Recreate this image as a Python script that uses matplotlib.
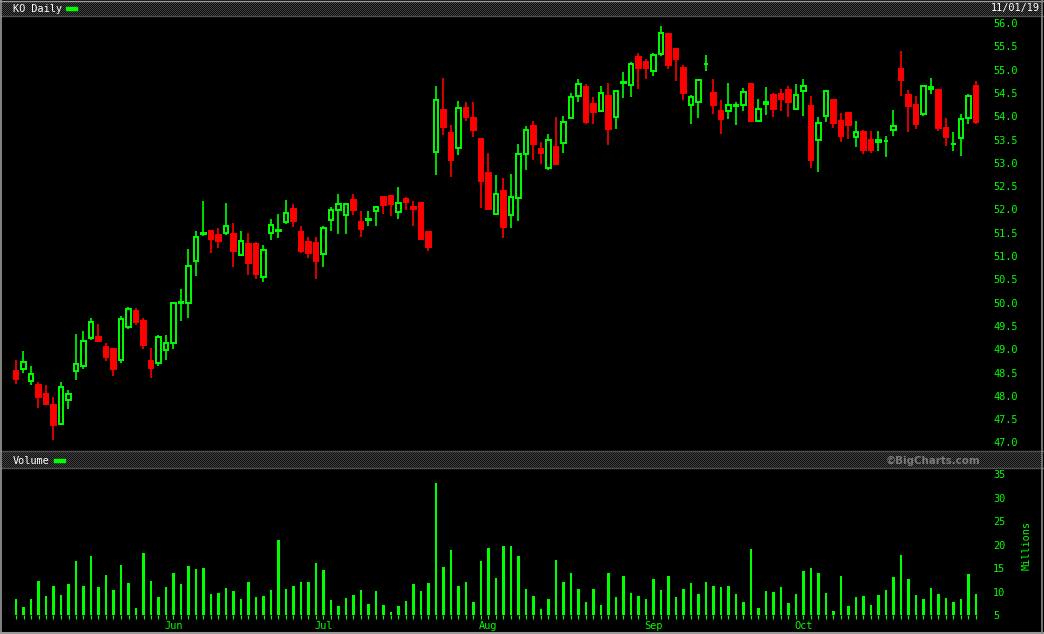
import matplotlib
matplotlib.use('Agg')
import matplotlib.pyplot as plt
from matplotlib.lines import Line2D
from matplotlib.patches import Rectangle
import numpy as np
import pandas as pd

# KO daily candles, 2 May 2019 .. 1 Nov 2019
opens = [48.54, 48.58, 48.32, 48.23, 48.04, 47.80, 47.40, 47.90, 48.53, 48.65,
         49.25, 49.26, 49.05, 49.00, 48.77, 49.48, 49.82, 49.61, 48.75, 48.71,
         48.99, 49.14, 49.99, 50.00, 50.90, 51.47, 51.54, 51.45, 51.50, 51.47,
         51.03, 51.26, 51.26, 50.54, 51.50, 51.54, 51.74, 52.01, 51.52, 51.30,
         51.28, 51.05, 51.78, 51.99, 51.89, 52.20, 51.74, 51.78, 51.97, 52.27,
         52.29, 51.95, 52.22, 52.05, 52.14, 51.52, 53.24, 54.13, 53.64, 53.32,
         54.18, 53.96, 53.51, 52.78, 51.91, 52.39, 51.87, 52.25, 53.19, 53.79,
         53.30, 52.89, 53.34, 53.43, 53.97, 54.44, 54.63, 54.26, 54.11, 54.43,
         53.99, 54.71, 54.66, 55.27, 55.16, 54.98, 55.34, 55.76, 55.44, 55.04,
         54.23, 54.30, 55.12, 54.50, 54.11, 54.11, 54.22, 54.23, 54.69, 53.90,
         54.26, 54.46, 54.48, 54.56, 54.15, 54.54, 54.22, 53.50, 54.00, 54.35,
         53.90, 54.07, 53.55, 53.66, 53.49, 53.44, 53.46, 53.70, 55.01, 54.46,
         54.24, 54.05, 54.58, 54.56, 53.75, 53.40, 53.53, 53.96, 54.65]
highs = [48.77, 48.96, 48.63, 48.29, 48.23, 47.97, 48.30, 48.12, 49.33, 49.39,
         49.67, 49.54, 49.13, 49.02, 49.71, 49.91, 49.88, 49.67, 49.03, 49.30,
         49.30, 50.02, 50.29, 51.16, 51.54, 52.18, 51.54, 51.60, 52.14, 51.71,
         51.54, 51.49, 51.30, 51.24, 51.79, 51.90, 52.20, 52.12, 51.64, 51.41,
         51.41, 51.64, 52.05, 52.33, 52.13, 52.33, 51.97, 51.97, 52.08, 52.29,
         52.29, 52.48, 52.27, 52.18, 52.16, 51.52, 54.65, 54.82, 53.81, 54.33,
         54.30, 54.30, 53.51, 53.21, 52.74, 52.67, 52.76, 53.40, 53.79, 53.90,
         53.45, 53.62, 53.98, 54.00, 54.50, 54.80, 54.69, 54.41, 54.65, 54.71,
         54.55, 54.95, 55.16, 55.36, 55.23, 55.36, 55.94, 55.79, 55.44, 55.10,
         54.46, 54.80, 55.31, 54.80, 54.35, 54.71, 54.30, 54.61, 54.69, 54.37,
         54.63, 54.50, 54.58, 54.65, 54.69, 54.80, 54.43, 53.98, 54.56, 54.37,
         54.07, 54.07, 53.90, 53.70, 53.68, 53.68, 53.58, 54.13, 55.40, 54.56,
         54.43, 54.67, 54.82, 54.56, 53.96, 53.66, 54.05, 54.48, 54.76]
lows = [48.26, 48.50, 48.23, 47.74, 47.80, 47.05, 47.37, 47.72, 48.34, 48.58,
        49.20, 49.15, 48.75, 48.43, 48.71, 49.44, 49.52, 49.01, 48.38, 48.65,
        48.77, 49.01, 49.61, 49.68, 50.58, 51.44, 51.06, 51.17, 51.46, 50.76,
        50.99, 50.59, 50.51, 50.45, 51.34, 51.39, 51.69, 51.63, 51.06, 50.96,
        50.51, 50.76, 51.54, 51.48, 51.48, 51.89, 51.41, 51.65, 51.65, 51.90,
        51.86, 51.79, 51.99, 51.65, 51.34, 51.11, 52.74, 53.60, 52.70, 53.17,
        53.90, 53.55, 52.03, 51.99, 51.90, 51.39, 51.60, 51.75, 52.85, 53.06,
        52.97, 52.85, 52.95, 53.21, 53.94, 54.30, 53.83, 53.83, 54.09, 53.38,
        53.73, 54.39, 54.41, 54.58, 54.80, 54.86, 55.29, 55.01, 54.76, 54.35,
        53.83, 53.96, 54.97, 54.05, 53.62, 53.94, 53.81, 54.11, 53.88, 53.88,
        54.03, 53.98, 54.11, 53.98, 54.13, 54.00, 52.89, 52.80, 53.88, 53.75,
        53.45, 53.51, 53.34, 53.19, 53.21, 53.25, 53.13, 53.58, 54.43, 53.66,
        53.73, 54.00, 54.48, 53.68, 53.36, 53.25, 53.15, 53.83, 53.83]
closes = [48.36, 48.73, 48.47, 47.98, 47.83, 47.37, 48.18, 48.04, 48.68, 49.18,
          49.58, 49.18, 48.84, 48.58, 49.64, 49.86, 49.59, 49.09, 48.60, 49.26,
          49.13, 49.99, 50.01, 50.79, 51.41, 51.49, 51.37, 51.33, 51.64, 51.11,
          51.32, 50.86, 50.62, 51.13, 51.67, 51.55, 51.92, 51.76, 51.11, 51.06,
          50.89, 51.60, 51.99, 52.12, 52.12, 51.99, 51.58, 51.80, 52.05, 52.09,
          52.12, 52.13, 52.16, 52.01, 51.37, 51.19, 54.35, 53.77, 53.06, 54.17,
          53.99, 53.70, 52.61, 52.01, 52.33, 51.62, 52.27, 53.19, 53.70, 53.41,
          53.20, 53.50, 52.97, 53.87, 54.41, 54.69, 53.88, 54.09, 54.50, 53.73,
          54.54, 54.73, 55.12, 55.04, 55.04, 55.31, 55.79, 55.10, 55.23, 54.50,
          54.41, 54.78, 55.13, 54.24, 53.94, 54.24, 54.24, 54.52, 53.90, 54.16,
          54.31, 54.16, 54.37, 54.30, 54.46, 54.65, 53.06, 53.85, 54.54, 53.85,
          53.58, 53.81, 53.66, 53.27, 53.27, 53.50, 53.47, 53.78, 54.78, 54.22,
          53.83, 54.65, 54.63, 53.75, 53.55, 53.41, 53.94, 54.43, 53.88]
# volume, millions
volumes = [8.5, 6.8, 8.5, 12.3, 9.1, 11.2, 9.3, 11.7, 16.5, 11.2,
           17.6, 11.0, 13.6, 10.4, 15.7, 11.9, 6.6, 18.2, 12.3, 8.9,
           11.0, 14.0, 11.7, 15.5, 14.8, 15.1, 9.5, 9.7, 10.8, 10.2,
           8.5, 12.1, 8.9, 9.1, 10.4, 21.0, 10.6, 11.2, 12.1, 12.1,
           16.1, 14.6, 8.3, 7.0, 8.7, 9.3, 10.4, 7.4, 10.2, 7.2,
           5.7, 7.0, 8.0, 11.7, 10.2, 11.9, 33.1, 15.3, 18.9, 11.2,
           12.1, 7.8, 16.5, 19.3, 12.9, 19.7, 19.7, 17.6, 10.6, 9.1,
           6.3, 8.5, 16.8, 12.1, 14.0, 10.6, 7.8, 10.6, 7.2, 14.0,
           8.9, 13.4, 9.7, 9.1, 8.5, 12.7, 10.4, 13.4, 8.9, 10.6,
           11.9, 9.5, 12.1, 11.2, 11.0, 11.2, 9.5, 7.8, 19.1, 6.6,
           10.2, 9.9, 11.0, 7.6, 9.5, 14.4, 15.1, 14.0, 9.7, 5.9,
           13.4, 7.0, 8.9, 9.1, 7.2, 9.3, 10.4, 13.1, 17.8, 12.7,
           9.3, 8.5, 10.8, 9.5, 8.7, 7.8, 8.5, 13.8, 9.5]

dates = pd.bdate_range('2019-05-02', '2019-11-01')
dates = dates[~dates.isin(pd.to_datetime(['2019-05-27', '2019-07-04', '2019-09-02']))]
months = dates.month
month_idx = [i for i in range(1, len(dates)) if months[i] != months[i - 1] and i < len(dates) - 1]
month_lbl = [dates[i].strftime('%b') for i in month_idx]

green = '#00ff00'
red = '#ff0000'
mono = 'DejaVu Sans Mono'
fs = 7.4

W, H = 1044, 634
fig = plt.figure(figsize=(W / 100, H / 100), dpi=100, facecolor='black')


def rect(x0, y0, x1, y1):
    return [x0 / W, 1 - y1 / H, (x1 - x0) / W, (y1 - y0) / H]


def header(y0, y1):
    ax = fig.add_axes(rect(2, y0, 1041, y1))
    hh, ww = y1 - y0, 1041 - 2
    chk = np.indices((hh, ww)).sum(axis=0) % 2
    img = np.where(chk[..., None] == 1, 0.26, 0.05) * np.ones(3)
    ax.imshow(img, aspect='auto', interpolation='nearest')
    ax.axis('off')
    return ax


header(1, 16)
header(452, 468)

x = np.arange(len(opens))
xl = ((2 - 16) / 7.5, (982 - 16) / 7.5)

# price panel
ax = fig.add_axes(rect(2, 17, 982, 450))
ax.set_facecolor('black')
ax.set_xlim(*xl)
ax.set_ylim(56.494 - 0.02146 * 450, 56.494 - 0.02146 * 17)
cols = [green if c >= o else red for o, c in zip(opens, closes)]
ax.vlines(x, lows, highs, colors=cols, linewidth=1.2, zorder=2)
bot = np.minimum(opens, closes)
hgt = np.abs(np.array(closes) - np.array(opens))
face = ['black' if c == green else red for c in cols]
ax.bar(x, hgt, bottom=bot, width=0.62, color=face, edgecolor=cols,
       linewidth=1.4, zorder=3)
ax.yaxis.tick_right()
ax.set_yticks(np.arange(47.0, 56.01, 0.5))
ax.set_yticklabels(['%.1f' % v for v in np.arange(47.0, 56.01, 0.5)])
ax.tick_params(axis='y', length=0, pad=8, labelcolor=green, labelsize=fs)
ax.set_xticks([])
for lab in ax.get_yticklabels():
    lab.set_family(mono)
for s in ax.spines.values():
    s.set_visible(False)

# volume panel
av = fig.add_axes(rect(2, 469, 982, 615.3))
av.set_facecolor('black')
av.set_xlim(*xl)
av.set_ylim(5, 5 + (615.3 - 469) / 4.71)
av.bar(x, volumes, width=0.3, color=green)
av.yaxis.tick_right()
av.set_yticks(range(5, 36, 5))
av.tick_params(axis='y', length=0, pad=8, labelcolor=green, labelsize=fs)
av.set_xticks(month_idx)
av.set_xticklabels(month_lbl)
av.set_xticks(x, minor=True)
av.tick_params(axis='x', which='both', direction='out', length=2.6, width=0.8,
               color=green, labelcolor=green, labelsize=fs, pad=1.2)
for lab in av.get_yticklabels() + av.get_xticklabels():
    lab.set_family(mono)
for s in av.spines.values():
    s.set_visible(False)

# header texts
fig.text(13 / W, 1 - 8.5 / H, 'KO Daily', color='white', family=mono,
         fontsize=fs, va='center')
fig.add_artist(Rectangle((66 / W, 1 - 9.5 / H), 11 / W, 3 / H,
                         transform=fig.transFigure, color=green))
fig.text(1040 / W, 1 - 8.5 / H, '11/01/19', color='white', family=mono,
         fontsize=fs, va='center', ha='right')
fig.text(13 / W, 1 - 460.5 / H, 'Volume', color='white', family=mono,
         fontsize=fs, va='center')
fig.add_artist(Rectangle((54 / W, 1 - 461.5 / H), 11 / W, 3 / H,
                         transform=fig.transFigure, color=green))
fig.text(980 / W, 1 - 460.5 / H, '\u00a9BigCharts.com', color='#7a7a7a',
         fontsize=7.4, fontweight='bold', va='center', ha='right')
fig.text(1027 / W, 1 - 546 / H, 'Millions', color=green, family=mono,
         fontsize=fs, va='center', ha='center', rotation=90)

# frame lines
def hline(y, c, lw=1.0):
    fig.add_artist(Line2D([0, 1], [1 - y / H] * 2, color=c, lw=lw,
                          transform=fig.transFigure))


def vline(xp, c, lw=1.0):
    fig.add_artist(Line2D([xp / W] * 2, [0, 1], color=c, lw=lw,
                          transform=fig.transFigure))


hline(0.5, '#9a9a9a')
hline(16.3, '#505050')
hline(451.3, '#505050')
hline(468.3, '#505050')
hline(632.5, '#9a9a9a', 1.5)
vline(0.6, '#9a9a9a', 1.2)
vline(1042, '#8a8a8a', 1.2)

fig.savefig('out.png', dpi=100, facecolor='black')
